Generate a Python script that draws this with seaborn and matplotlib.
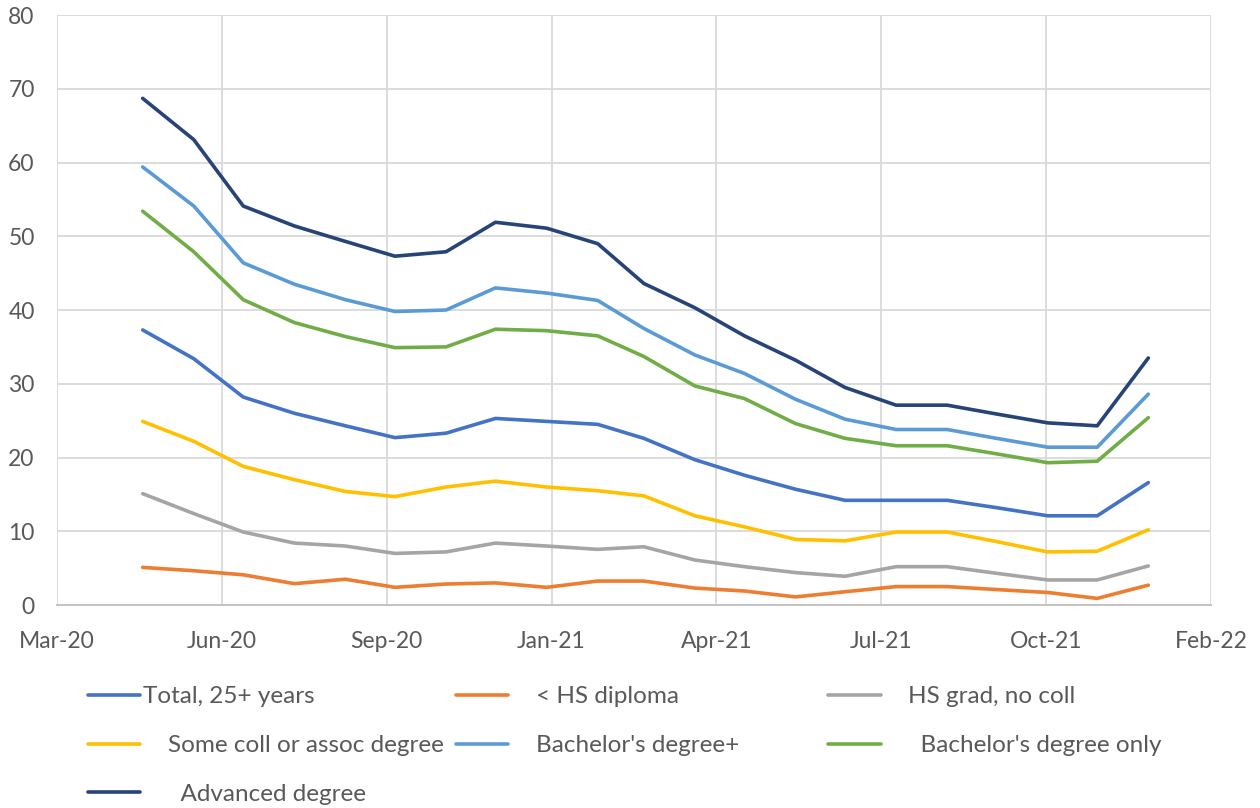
import matplotlib
matplotlib.use("Agg")
import matplotlib.pyplot as plt
import matplotlib.dates as mdates
import pandas as pd
import seaborn as sns

months = [
    "2020-05", "2020-06", "2020-07", "2020-08", "2020-09", "2020-10", "2020-11",
    "2020-12", "2021-01", "2021-02", "2021-03", "2021-04", "2021-05", "2021-06",
    "2021-07", "2021-08", "2021-09", "2021-10", "2021-11", "2021-12", "2022-01",
]

total_25 = [37.3, 33.4, 28.2, 26.0, 24.3, 22.7, 23.3, 25.3, 24.9, 24.5, 22.6,
            19.7, 17.6, 15.7, 14.2, 14.2, 14.2, 13.2, 12.1, 12.1, 16.6]
less_hs = [5.1, 4.65, 4.1, 2.9, 3.5, 2.4, 2.85, 3.0, 2.4, 3.25, 3.25,
           2.3, 1.9, 1.1, 1.8, 2.5, 2.5, 2.1, 1.7, 0.9, 2.7]
hs_grad = [15.1, 12.4, 9.9, 8.4, 8.0, 7.0, 7.2, 8.4, 8.0, 7.55, 7.9,
           6.1, 5.2, 4.4, 3.9, 5.2, 5.2, 4.3, 3.4, 3.4, 5.3]
some_coll = [24.9, 22.2, 18.8, 17.0, 15.4, 14.7, 16.0, 16.8, 16.0, 15.5, 14.8,
             12.1, 10.6, 8.9, 8.7, 9.9, 9.9, 8.6, 7.2, 7.3, 10.2]
bach_plus = [59.4, 54.1, 46.4, 43.5, 41.4, 39.8, 40.0, 43.0, 42.3, 41.3, 37.5,
             33.9, 31.4, 27.9, 25.2, 23.8, 23.8, 22.6, 21.4, 21.4, 28.6]
bach_only = [53.4, 47.9, 41.4, 38.3, 36.4, 34.9, 35.0, 37.4, 37.2, 36.5, 33.7,
             29.7, 28.0, 24.6, 22.6, 21.6, 21.6, 20.5, 19.3, 19.5, 25.4]
advanced = [68.7, 63.1, 54.1, 51.4, 49.3, 47.3, 47.9, 51.9, 51.1, 49.0, 43.6,
            40.3, 36.5, 33.2, 29.5, 27.1, 27.1, 25.9, 24.7, 24.3, 33.5]

series_names = [
    "Total, 25+ years", "< HS diploma", "HS grad, no coll",
    "Some coll or assoc degree", "Bachelor's degree+",
    "Bachelor's degree only", "Advanced degree",
]
series_values = [total_25, less_hs, hs_grad, some_coll, bach_plus, bach_only, advanced]
colors = ["#4472C4", "#ED7D31", "#A5A5A5", "#FFC000", "#5B9BD5", "#70AD47", "#264478"]
# Excel-style legend labels with their odd leading gaps
legend_labels = [
    "Total, 25+ years", "    < HS diploma", "    HS grad, no coll",
    "    Some coll or assoc degree", "    Bachelor's degree+",
    "      Bachelor's degree only", "      Advanced degree",
]

dates = pd.to_datetime(months)
frames = [pd.DataFrame({"date": dates, "value": vals, "series": name})
          for name, vals in zip(series_names, series_values)]
df = pd.concat(frames, ignore_index=True)

sns.set_theme(style="whitegrid")
plt.rcParams["font.family"] = ["Lato", "DejaVu Sans"]
text_color = "#595959"
grid_color = "#d9d9d9"

fig = plt.figure(figsize=(12.6, 8.08), dpi=100)
ax = fig.add_axes([0.0452, 0.2512, 0.9159, 0.7302])

sns.lineplot(data=df, x="date", y="value", hue="series", hue_order=series_names,
             palette=dict(zip(series_names, colors)), linewidth=2.6, ax=ax)

start = pd.Timestamp("2020-03-10")
ticks = [start + pd.Timedelta(days=100 * k) for k in range(8)]
ax.set_xlim(ticks[0], ticks[-1])
ax.set_xticks(ticks)
ax.xaxis.set_major_formatter(mdates.DateFormatter("%b-%y"))
ax.set_ylim(0, 80)
ax.set_yticks(range(0, 81, 10))

ax.grid(True, color=grid_color, linewidth=1.3)
for side in ["top", "right", "left"]:
    ax.spines[side].set_visible(False)
ax.spines["bottom"].set_color("#bfbfbf")
ax.spines["bottom"].set_linewidth(1.3)
ax.tick_params(axis="both", length=0, labelsize=16.5, colors=text_color)
ax.tick_params(axis="x", pad=19)
ax.tick_params(axis="y", pad=16)
ax.set_xlabel("")
ax.set_ylabel("")

handles, labels = ax.get_legend_handles_labels()
ax.get_legend().remove()
lookup = dict(zip(labels, handles))

# three legend columns, laid out like the Excel legend (row-major)
columns = [([0, 3, 6], 0.0565), ([1, 4], 0.3485), ([2, 5], 0.644)]
for idx, x0 in columns:
    leg = fig.legend([lookup[series_names[i]] for i in idx],
                     [legend_labels[i] for i in idx],
                     loc="upper left", bbox_to_anchor=(x0, 0.172),
                     frameon=False, fontsize=17.5, labelcolor=text_color,
                     handlelength=2.15, handletextpad=0.1, labelspacing=1.15,
                     borderpad=0.2)

fig.savefig("out.png", dpi=100)
